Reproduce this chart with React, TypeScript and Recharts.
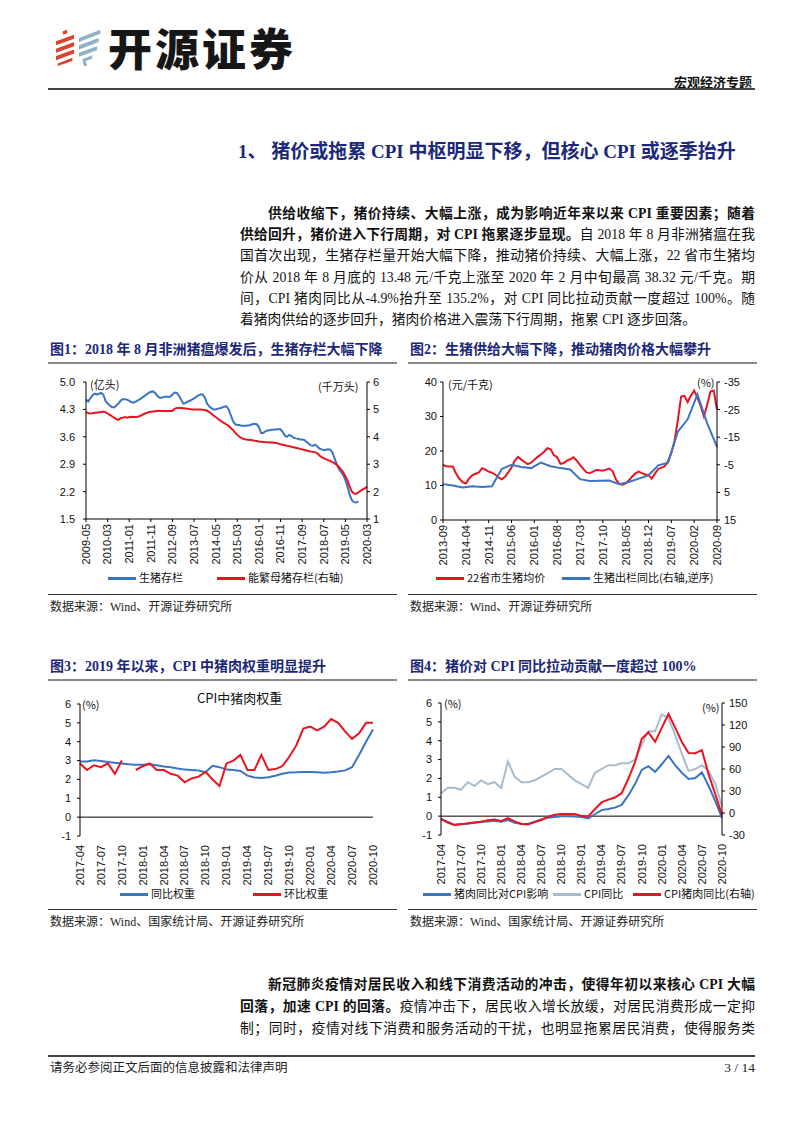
import React from 'react';
import { LineChart, Line, XAxis, YAxis, ReferenceLine } from 'recharts';

// month labels like 2009-05
function months(y0: number, m0: number, count: number): string[] {
  const out: string[] = [];
  for (let i = 0; i < count; i++) {
    const t = m0 - 1 + i;
    const y = y0 + Math.floor(t / 12);
    const m = (t % 12) + 1;
    out.push(`${y}-${String(m).padStart(2, '0')}`);
  }
  return out;
}

// ---- 图1: 生猪存栏 (亿头) / 能繁母猪存栏 (千万头), 2009-05 .. 2020-03
const months1 = months(2009, 5, 131);
const hogStock = [
  4.55, 4.5, 4.58, 4.66, 4.7, 4.68, 4.7, 4.72,
  4.68, 4.52, 4.45, 4.4, 4.36, 4.35, 4.4, 4.45, 4.52, 4.56, 4.56, 4.55,
  4.52, 4.48, 4.47, 4.5, 4.53, 4.56, 4.6, 4.64, 4.68, 4.72, 4.75, 4.76,
  4.72, 4.65, 4.6, 4.6, 4.62, 4.63, 4.62, 4.63, 4.68, 4.73, 4.72, 4.65,
  4.55, 4.45, 4.46, 4.5, 4.52, 4.55, 4.58, 4.62, 4.66, 4.68, 4.68, 4.6,
  4.45, 4.38, 4.33, 4.3, 4.3, 4.32, 4.33, 4.35, 4.37, 4.38, 4.3, 4.15,
  4.0, 3.92, 3.9, 3.9, 3.88, 3.88, 3.88, 3.89, 3.9, 3.92, 3.93, 3.92,
  3.85, 3.7, 3.7, 3.74, 3.76, 3.77, 3.78, 3.78, 3.79, 3.79, 3.79, 3.72,
  3.63, 3.6, 3.65, 3.62, 3.58, 3.56, 3.55, 3.53, 3.53, 3.52, 3.47, 3.43,
  3.38, 3.37, 3.4, 3.35, 3.3, 3.28, 3.26, 3.27, 3.28, 3.27, 3.2, 3.05,
  2.9, 2.78, 2.7, 2.62, 2.5, 2.32, 2.12, 1.98, 1.93, 1.92, 1.95, null,
  null, null, null,
];
const sowStock = [
  4.9, 4.87, 4.85, 4.86, 4.88, 4.88, 4.9, 4.9,
  4.92, 4.9, 4.85, 4.8, 4.75, 4.7, 4.65, 4.62, 4.68, 4.7, 4.72, 4.7,
  4.72, 4.73, 4.72, 4.72, 4.73, 4.76, 4.8, 4.84, 4.87, 4.9, 4.91, 4.92,
  4.93, 4.94, 4.94, 4.94, 4.94, 4.94, 4.94, 4.94, 4.94, 5.02, 5.05, 5.05,
  5.05, 5.04, 5.03, 5.02, 5.01, 5.0, 5.0, 5.0, 5.0, 5.0, 4.99, 4.98,
  4.95, 4.9, 4.85, 4.78, 4.72, 4.66, 4.6, 4.55, 4.5, 4.45, 4.4, 4.32,
  4.25, 4.15, 4.07, 4.0, 3.95, 3.92, 3.9, 3.89, 3.88, 3.87, 3.86, 3.85,
  3.83, 3.82, 3.81, 3.8, 3.8, 3.79, 3.79, 3.78, 3.77, 3.75, 3.73, 3.71,
  3.69, 3.67, 3.66, 3.64, 3.62, 3.6, 3.58, 3.56, 3.54, 3.52, 3.5, 3.48,
  3.46, 3.45, 3.44, 3.4, 3.32, 3.26, 3.22, 3.18, 3.15, 3.12, 3.08, 3.03,
  2.98, 2.9, 2.8, 2.7, 2.55, 2.4, 2.18, 2.0, 1.93, 1.92, 1.97, 2.03,
  2.08, 2.12, 2.18,
];
const ticksL1 = [1.5, 2.2, 2.9, 3.6, 4.3, 5.0];
const ticksR1 = [1, 2, 3, 4, 5, 6];

// ---- 图2: 22省市生猪均价 (元/千克) / 生猪出栏同比 (季度, 右轴逆序), 2013-09 .. 2020-09
const months2 = months(2013, 9, 85);
const hogPrice = [
  16.0, 15.6, 15.5, 15.5, 13.5, 12.0, 11.0, 10.6, 12.0, 13.0,
  13.4, 13.8, 15.0, 14.6, 14.0, 13.7, 13.2, 12.4, 11.8, 12.5,
  13.8, 15.2, 17.2, 18.3, 17.5, 16.8, 16.2, 16.6, 17.5, 18.3,
  19.0, 19.8, 20.8, 20.5, 18.8, 18.2, 16.3, 16.5, 17.2, 17.6,
  18.2, 17.2, 16.0, 14.8, 13.8, 13.6, 14.0, 14.5, 14.4, 14.3,
  14.6, 14.9, 14.2, 11.8, 10.5, 10.2, 10.6, 11.5, 12.6, 13.5,
  14.0, 13.6, 13.2, 13.0, 12.0, 13.5, 14.8, 15.2, 15.6, 17.0,
  19.5, 23.0, 29.0, 35.8, 36.0, 34.2, 36.0, 37.5, 35.5, 33.0,
  30.0, 33.5, 37.2, 37.5, 32.0,
];
// quarterly, one value every 3 months starting 2013-09
const hogOutYoY = [
  2.0, 2.5, 3.2, 2.8, 3.0, 2.8, -3.5, -5.0, -4.2, -3.8, -5.8, -4.5, -3.8, -3.3,
  0.2, 0.9, 0.8, 0.7, 2.0, 1.2, 0.0, -1.2, -4.8, -5.8, -17, -21.5, -30.5, -20, -11.5,
];
const ticksL2 = [0, 10, 20, 30, 40];
const ticksR2 = [-35, -25, -15, -5, 5, 15];

// ---- 图3 / 图4: 2017-04 .. 2020-10
const months3 = months(2017, 4, 43);
const weightYoY = [
  2.95, 2.95, 3.02, 2.98, 2.92, 2.88, 2.85, 2.8, 2.78, 2.78,
  2.8, 2.75, 2.68, 2.65, 2.58, 2.52, 2.5, 2.47, 2.38, 2.72,
  2.65, 2.52, 2.5, 2.45, 2.2, 2.1, 2.08, 2.12, 2.2, 2.3,
  2.37, 2.38, 2.4, 2.4, 2.38, 2.36, 2.38, 2.42, 2.48, 2.65,
  3.3, 4.0, 4.65,
];
const weightMoM = [
  2.85, 2.5, 2.75, 2.65, 2.85, 2.3, 3.0, null, 2.5, 2.7,
  2.85, 2.5, 2.5, 2.3, 2.2, 1.85, 2.05, 2.15, 2.4, 2.0,
  1.65, 2.85, 3.0, 3.3, 2.5, 2.5, 3.3, 2.5, 2.55, 2.7,
  3.2, 3.8, 4.7, 4.8, 4.6, 4.8, 5.2, 5.0, 4.55, 4.15,
  4.45, 5.0, 5.0,
];
const ticks34 = [-1, 0, 1, 2, 3, 4, 5, 6];

const porkImpact = [
  -0.15, -0.3, -0.45, -0.42, -0.4, -0.35, -0.3, -0.28, -0.25, -0.3,
  -0.2, -0.35, -0.4, -0.42, -0.3, -0.18, -0.08, -0.04, 0.0, 0.0,
  -0.02, -0.05, -0.12, 0.1, 0.32, 0.38, 0.45, 0.6, 1.1, 1.7,
  2.45, 2.65, 2.35, 2.75, 3.2, 2.7, 2.3, 1.97, 2.02, 2.32,
  1.6, 0.8, -0.1,
];
const cpiYoY = [
  1.2, 1.5, 1.5, 1.4, 1.8, 1.6, 1.9, 1.7, 1.8, 1.5,
  2.9, 2.1, 1.8, 1.8, 1.9, 2.1, 2.3, 2.5, 2.5, 2.2,
  1.9, 1.7, 1.5, 2.3, 2.5, 2.7, 2.7, 2.8, 2.8, 3.0,
  3.8, 4.5, 4.5, 5.4, 5.2, 4.3, 3.3, 2.4, 2.5, 2.7,
  2.4, 1.7, 0.5,
];
const cpiPorkYoY = [
  -8, -13, -16.5, -15.5, -14, -13, -12, -10, -9, -11,
  -7, -11.5, -15, -15.5, -12.5, -9.5, -5, -2.3, -1.3, -1.3,
  -1.5, -3.9, -4.8, 5.1, 14.4, 18.2, 21.1, 27, 46.7, 69.3,
  101.3, 110.2, 97, 116, 135.2, 116.4, 96.9, 81.7, 81.6, 85.7,
  52.6, 25.5, -2.8,
];
const ticksR4 = [-30, 0, 30, 60, 90, 120, 150];

const data1 = months1.map((m, i) => ({ m, hog: hogStock[i], sow: sowStock[i] }));
const data2 = months2.map((m, i) => ({
  m,
  price: hogPrice[i],
  out: i % 3 === 0 ? hogOutYoY[i / 3] : null,
}));
const data3 = months3.map((m, i) => ({ m, yoy: weightYoY[i], mom: weightMoM[i] }));
const data4 = months3.map((m, i) => ({ m, imp: porkImpact[i], cpi: cpiYoY[i], pork: cpiPorkYoY[i] }));

const NAVY = '#1c2878';
const BLUE = '#3a75c4';
const RED = '#e8141e';
const GRAY = '#a8bccb';
const SERIF = "'Liberation Serif', 'Noto Sans CJK SC', serif";
const CJK = "'Noto Sans CJK SC', 'Liberation Sans', sans-serif";
const tickFont = { fontSize: 11, fill: '#111', fontFamily: "'Liberation Sans', Arial, sans-serif" };

function VTick(props: any) {
  const { x, y, payload } = props;
  return (
    <text
      x={x}
      y={y}
      transform={`rotate(-90 ${x} ${y})`}
      textAnchor="end"
      dy="0.35em"
      {...tickFont}
    >
      {payload.value}
    </text>
  );
}

const abs = (left: number, top: number): React.CSSProperties => ({ position: 'absolute', left, top });

function Txt({ x, y, size = 11, children, style }: any) {
  return (
    <div style={{ ...abs(x, y - size * 0.7), fontSize: size, lineHeight: `${size * 1.4}px`, fontFamily: CJK, color: '#111', whiteSpace: 'nowrap', ...style }}>
      {children}
    </div>
  );
}

function LegendItem({ x, y, color, w = 28, label }: any) {
  return (
    <>
      <div style={{ ...abs(x, y - 1.5), width: w, height: 3, background: color }} />
      <Txt x={x + w + 3} y={y}>{label}</Txt>
    </>
  );
}

function Frame({ x, title, titleY, sourceY, source }: any) {
  return (
    <>
      <div style={{ ...abs(x, titleY - 10), fontSize: 14, lineHeight: '20px', fontWeight: 700, color: NAVY, fontFamily: SERIF, whiteSpace: 'nowrap' }}>
        {title}
      </div>
      <div style={{ ...abs(x - 2, titleY + 12), width: 349, height: 2, background: '#8a8a8a' }} />
      <div style={{ ...abs(x - 2, sourceY - 13), width: 349, height: 1, background: '#333' }} />
      <div style={{ ...abs(x, sourceY - 9), fontSize: 12, lineHeight: '18px', fontFamily: SERIF, color: '#222', whiteSpace: 'nowrap' }}>
        {source}
      </div>
    </>
  );
}

function Chart1() {
  return (
    <div style={abs(40, 372)}>
      <LineChart width={357} height={197} data={data1} margin={{ top: 10, right: 0, bottom: 0, left: 0 }}>
        <XAxis dataKey="m" interval={9} tick={(p: any) => <VTick {...p} />} tickSize={3} tickMargin={2} height={50} stroke="#000" />
        <YAxis yAxisId="l" domain={[1.5, 5]} ticks={ticksL1} interval={0} tickFormatter={(v: number) => v.toFixed(1)} tick={tickFont} tickSize={3} tickMargin={8} width={46} stroke="#000" />
        <YAxis yAxisId="r" orientation="right" domain={[1, 6]} ticks={ticksR1} interval={0} tick={tickFont} tickSize={3} tickMargin={3} width={30} stroke="#000" />
        <Line yAxisId="l" dataKey="hog" stroke={BLUE} strokeWidth={2} dot={false} isAnimationActive={false} />
        <Line yAxisId="r" dataKey="sow" stroke={RED} strokeWidth={2} dot={false} isAnimationActive={false} />
      </LineChart>
    </div>
  );
}

function Chart2() {
  return (
    <div style={abs(400, 372)}>
      <LineChart width={349} height={198} data={data2} margin={{ top: 10, right: 0, bottom: 0, left: 0 }}>
        <XAxis dataKey="m" interval={6} tick={(p: any) => <VTick {...p} />} tickSize={3} tickMargin={2} height={50} stroke="#000" />
        <YAxis yAxisId="l" domain={[0, 40]} ticks={ticksL2} interval={0} tick={tickFont} tickSize={3} tickMargin={3} width={43} stroke="#000" />
        <YAxis yAxisId="r" orientation="right" reversed domain={[-35, 15]} ticks={ticksR2} interval={0} tick={tickFont} tickSize={3} tickMargin={4} width={32} stroke="#000" />
        <Line yAxisId="l" dataKey="price" stroke={RED} strokeWidth={2} dot={false} isAnimationActive={false} />
        <Line yAxisId="r" dataKey="out" stroke={BLUE} strokeWidth={2} dot={false} connectNulls isAnimationActive={false} />
      </LineChart>
    </div>
  );
}

function Chart3() {
  return (
    <div style={abs(40, 694)}>
      <LineChart width={348} height={192} data={data3} margin={{ top: 10, right: 15, bottom: 0, left: 0 }}>
        <XAxis dataKey="m" interval={2} tick={(p: any) => <VTick {...p} />} axisLine={false} tickLine={false} tickMargin={3} height={50} />
        <YAxis yAxisId="l" domain={[-1, 6]} ticks={ticks34} interval={0} tick={tickFont} tickSize={3} tickMargin={6} width={40} stroke="#000" />
        <ReferenceLine yAxisId="l" y={0} stroke="#000" />
        <Line yAxisId="l" dataKey="yoy" stroke={BLUE} strokeWidth={2} dot={false} isAnimationActive={false} />
        <Line yAxisId="l" dataKey="mom" stroke={RED} strokeWidth={2} dot={false} isAnimationActive={false} />
      </LineChart>
    </div>
  );
}

function Chart4() {
  return (
    <div style={abs(400, 693)}>
      <LineChart width={354} height={192} data={data4} margin={{ top: 10, right: 0, bottom: 0, left: 0 }}>
        <XAxis dataKey="m" interval={2} tick={(p: any) => <VTick {...p} />} axisLine={false} tickLine={false} tickMargin={3} height={50} />
        <YAxis yAxisId="l" domain={[-1, 6]} ticks={ticks34} interval={0} tick={tickFont} tickSize={3} tickMargin={6} width={41} stroke="#000" />
        <YAxis yAxisId="r" orientation="right" domain={[-30, 150]} ticks={ticksR4} interval={0} tick={tickFont} tickSize={3} tickMargin={4} width={32} stroke="#000" />
        <ReferenceLine yAxisId="l" y={0} stroke="#000" />
        <Line yAxisId="l" dataKey="cpi" stroke={GRAY} strokeWidth={2} dot={false} isAnimationActive={false} />
        <Line yAxisId="l" dataKey="imp" stroke={BLUE} strokeWidth={2} dot={false} isAnimationActive={false} />
        <Line yAxisId="r" dataKey="pork" stroke={RED} strokeWidth={2} dot={false} isAnimationActive={false} />
      </LineChart>
    </div>
  );
}

// one justified line of body text
function BodyLine({ y, indent = 0, last = false, children }: any) {
  return (
    <div
      style={{
        ...abs(240 + indent, y - 10.5),
        width: 515 - indent,
        fontSize: 13.8,
        lineHeight: '21px',
        fontFamily: SERIF,
        color: '#111',
        textAlign: 'justify',
        textAlignLast: last ? 'left' : 'justify',
      }}
    >
      {children}
    </div>
  );
}

function Logo() {
  return (
    <svg width={46} height={46} style={abs(56, 24)} viewBox="0 0 56 46">
      <polygon points="8,4 13,2 14,6 9,8" fill="#d9432f" />
      <polygon points="0,16 22,8 22,13 0,21" fill="#d9432f" />
      <polygon points="0,25 22,17 22,22 0,30" fill="#d9432f" />
      <polygon points="0,34 22,26 22,31 0,39" fill="#d9432f" />
      <polygon points="2,43 20,36 20,40 2,46" fill="#d9432f" />
      <polygon points="28,12 54,2 54,7 28,17" fill="#8fb2c6" />
      <polygon points="28,21 52,12 52,17 28,26" fill="#8fb2c6" />
      <polygon points="28,30 50,22 50,27 28,35" fill="#8fb2c6" />
      <polygon points="32,38 44,33 44,37 36,40 38,46 34,46" fill="#8fb2c6" />
    </svg>
  );
}

export default function App() {
  const b = { fontWeight: 700 };
  return (
    <div style={{ position: 'absolute', left: 0, top: 0, width: 800, height: 1132, background: '#fff', overflow: 'hidden' }}>
      {/* header */}
      <Logo />
      <div style={{ ...abs(108, 19), fontSize: 44, lineHeight: '56px', fontWeight: 900, fontFamily: CJK, color: '#161616', letterSpacing: 3 }}>
        开源证券
      </div>
      <div style={{ ...abs(600, 73), width: 152, textAlign: 'right', fontSize: 13, lineHeight: '18px', fontWeight: 700, fontFamily: CJK, color: '#111' }}>
        宏观经济专题
      </div>
      <div style={{ ...abs(48, 88), width: 707, height: 2, background: '#444' }} />

      {/* section heading */}
      <div style={{ ...abs(238, 139), fontSize: 19, lineHeight: '26px', fontWeight: 700, color: NAVY, fontFamily: SERIF, whiteSpace: 'nowrap' }}>
        1、 猪价或拖累 CPI 中枢明显下移，但核心 CPI 或逐季抬升
      </div>

      {/* paragraph 1 */}
      <BodyLine y={213} indent={28}><span style={b}>供给收缩下，猪价持续、大幅上涨，成为影响近年来以来 CPI 重要因素；随着</span></BodyLine>
      <BodyLine y={234}><span style={b}>供给回升，猪价进入下行周期，对 CPI 拖累逐步显现。</span>自 2018 年 8 月非洲猪瘟在我</BodyLine>
      <BodyLine y={255.5}>国首次出现，生猪存栏量开始大幅下降，推动猪价持续、大幅上涨，22 省市生猪均</BodyLine>
      <BodyLine y={277}>价从 2018 年 8 月底的 13.48 元/千克上涨至 2020 年 2 月中旬最高 38.32 元/千克。期</BodyLine>
      <BodyLine y={298}>间，CPI 猪肉同比从-4.9%抬升至 135.2%，对 CPI 同比拉动贡献一度超过 100%。随</BodyLine>
      <BodyLine y={319} last>着猪肉供给的逐步回升，猪肉价格进入震荡下行周期，拖累 CPI 逐步回落。</BodyLine>

      {/* figure 1 */}
      <Frame x={50} titleY={350} sourceY={607} title="图1：2018 年 8 月非洲猪瘟爆发后，生猪存栏大幅下降" source="数据来源：Wind、开源证券研究所" />
      <Chart1 />
      <Txt x={90} y={385}>(亿头)</Txt>
      <Txt x={318} y={387}>(千万头)</Txt>
      <LegendItem x={108} y={578} color={BLUE} label="生猪存栏" />
      <LegendItem x={217} y={578} color={RED} label="能繁母猪存栏(右轴)" />

      {/* figure 2 */}
      <Frame x={410} titleY={350} sourceY={607} title="图2：生猪供给大幅下降，推动猪肉价格大幅攀升" source="数据来源：Wind、开源证券研究所" />
      <Chart2 />
      <Txt x={448} y={385}>(元/千克)</Txt>
      <Txt x={697} y={383}>(%)</Txt>
      <LegendItem x={436} y={578} color={RED} label="22省市生猪均价" />
      <LegendItem x={562} y={578} color={BLUE} label="生猪出栏同比(右轴,逆序)" />

      {/* figure 3 */}
      <Frame x={50} titleY={667} sourceY={922} title="图3：2019 年以来，CPI 中猪肉权重明显提升" source="数据来源：Wind、国家统计局、开源证券研究所" />
      <Chart3 />
      <Txt x={197} y={698} size={13}>CPI中猪肉权重</Txt>
      <Txt x={82} y={705}>(%)</Txt>
      <LegendItem x={120} y={894} color={BLUE} label="同比权重" />
      <LegendItem x={253} y={894} color={RED} label="环比权重" />

      {/* figure 4 */}
      <Frame x={410} titleY={667} sourceY={922} title="图4：猪价对 CPI 同比拉动贡献一度超过 100%" source="数据来源：Wind、国家统计局、开源证券研究所" />
      <Chart4 />
      <Txt x={444} y={704}>(%)</Txt>
      <Txt x={702} y={708}>(%)</Txt>
      <LegendItem x={423} y={894} color={BLUE} label="猪肉同比对CPI影响" />
      <LegendItem x={553} y={894} color={GRAY} label="CPI同比" />
      <LegendItem x={633} y={894} color={RED} label="CPI猪肉同比(右轴)" />

      {/* paragraph 2 */}
      <BodyLine y={984} indent={28}><span style={b}>新冠肺炎疫情对居民收入和线下消费活动的冲击，使得年初以来核心 CPI 大幅</span></BodyLine>
      <BodyLine y={1006}><span style={b}>回落，加速 CPI 的回落。</span>疫情冲击下，居民收入增长放缓，对居民消费形成一定抑</BodyLine>
      <BodyLine y={1028}>制；同时，疫情对线下消费和服务活动的干扰，也明显拖累居民消费，使得服务类</BodyLine>

      {/* footer */}
      <div style={{ ...abs(48, 1055), width: 707, height: 2, background: '#444' }} />
      <div style={{ ...abs(50, 1059), fontSize: 12.5, lineHeight: '18px', fontFamily: SERIF, color: '#222' }}>
        请务必参阅正文后面的信息披露和法律声明
      </div>
      <div style={{ ...abs(655, 1059), width: 100, textAlign: 'right', fontSize: 13.5, lineHeight: '18px', fontFamily: SERIF, color: '#222' }}>
        3 / 14
      </div>
    </div>
  );
}
